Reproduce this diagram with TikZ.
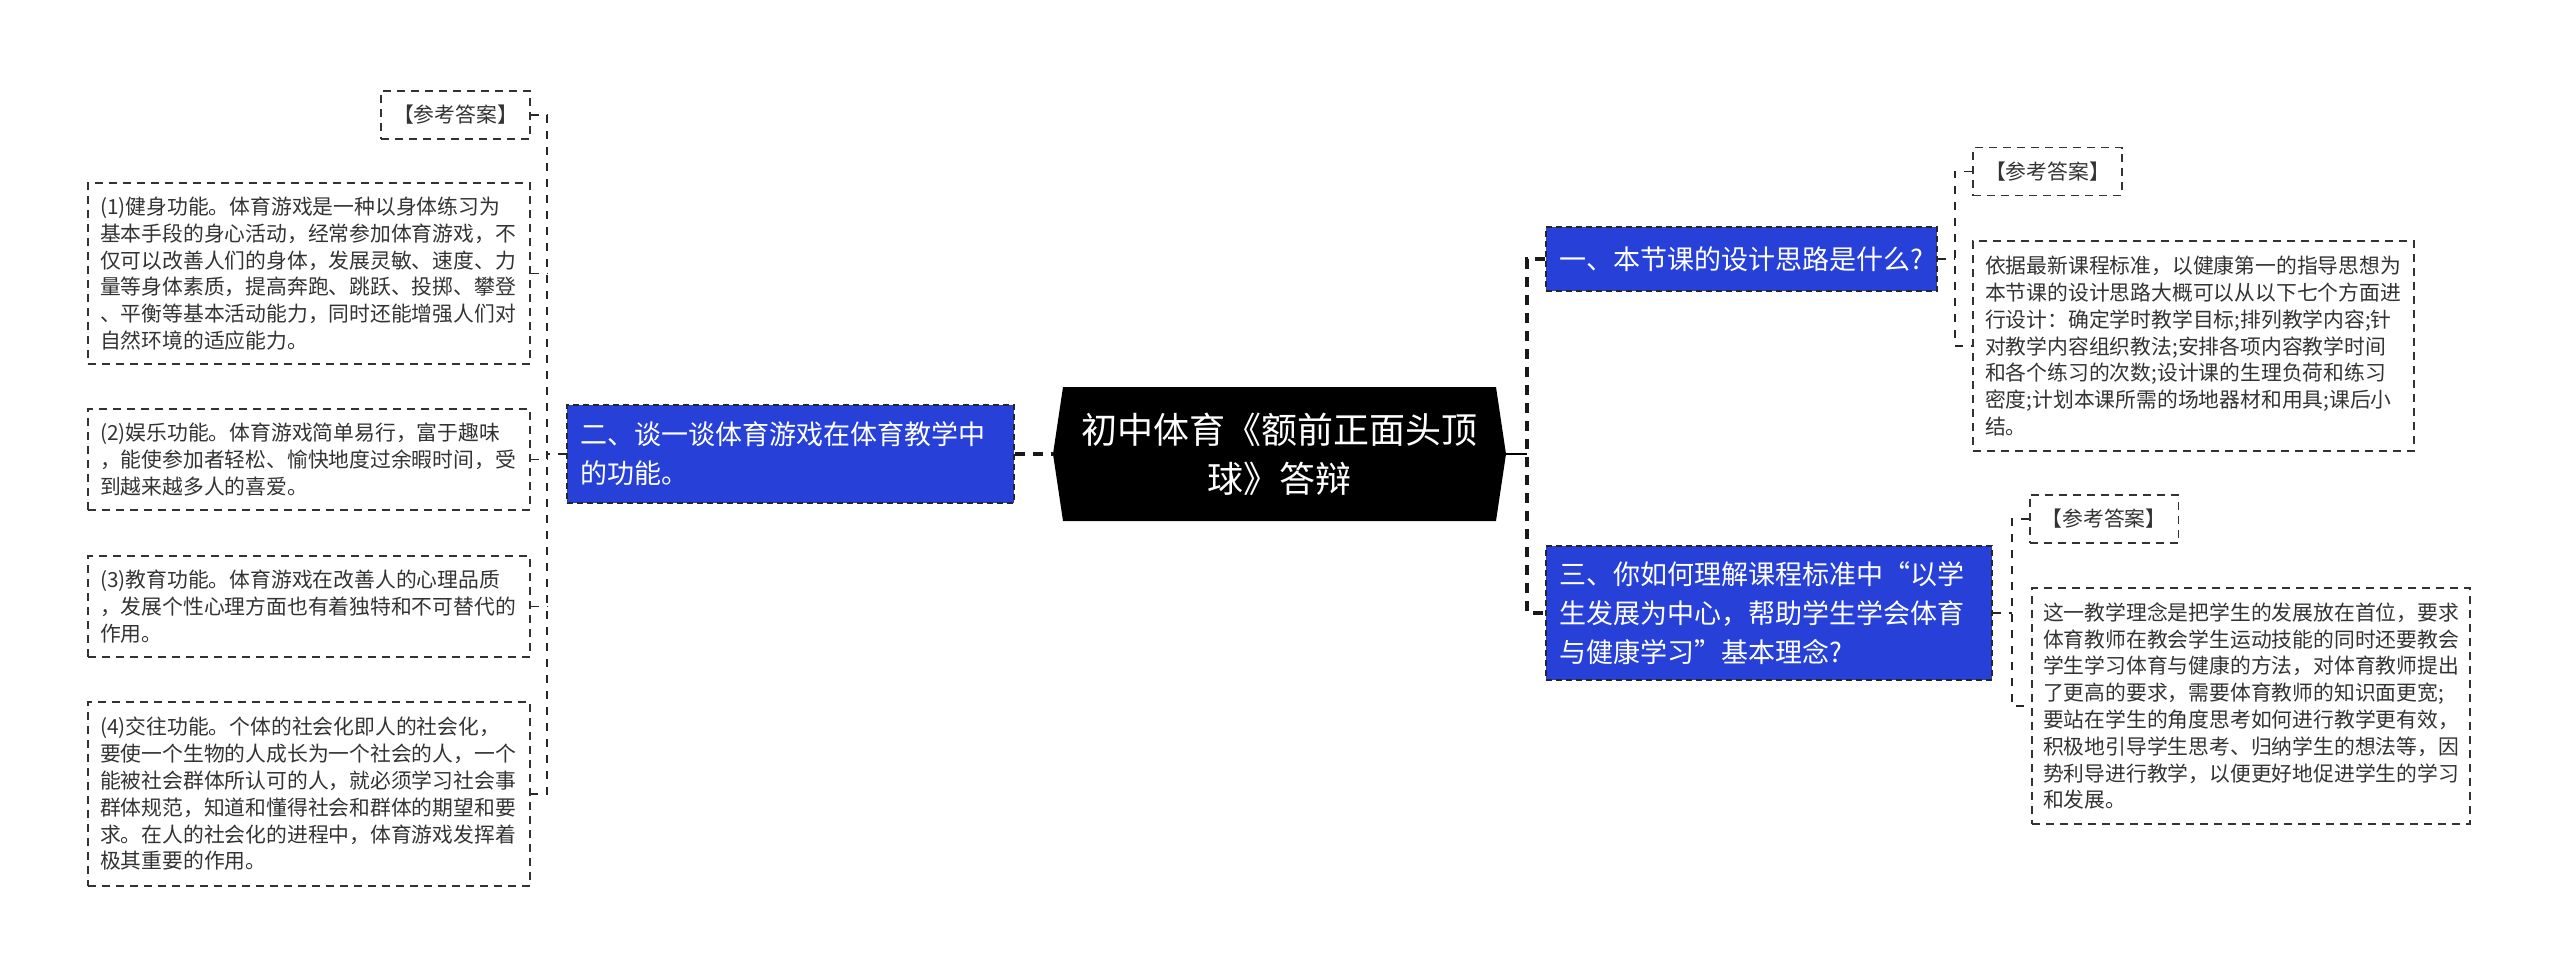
\documentclass[tikz,border=0pt]{standalone}
\usepackage{fontspec}
\setmainfont{Noto Sans CJK SC}
\usetikzlibrary{shapes.symbols}
\definecolor{topicblue}{RGB}{38,64,216}
\definecolor{leafgray}{RGB}{51,51,51}

\begin{document}
\begin{tikzpicture}[x=0.5pt,y=-0.5pt,
  root/.style={signal, signal to=west and east, signal pointer angle=163, fill=black, text=white,
    minimum width=226.5pt, minimum height=67pt, align=center, font=\fontsize{18pt}{24.5pt}\selectfont},
  topic/.style={draw=black!85, line width=0.8pt, dash pattern=on 3pt off 2pt, fill=topicblue, text=white,
    align=left, inner xsep=6.5pt, font=\fontsize{13.5pt}{19.5pt}\selectfont},
  leaf/.style={draw=leafgray, line width=0.9pt, dash pattern=on 4pt off 3pt, text=leafgray,
    align=left, inner xsep=6pt, font=\fontsize{10.4pt}{13.4pt}\selectfont},
  answer/.style={leaf, minimum width=74pt, minimum height=24pt},
  trunk/.style={line width=2pt, dash pattern=on 5pt off 4pt, draw=black!90},
  twig/.style={line width=0.9pt, dash pattern=on 4pt off 4pt, draw=black!85}]
\useasboundingbox (0,0) rectangle (2560,975);

\node[root] (root) at (1279.5,454) {初中体育《额前正面头顶\\球》答辩};

% left branch
\node[topic, text width=210.5pt, minimum height=49pt] (b2) at (790.5,454) {二、谈一谈体育游戏在体育教学中\\的功能。};
\node[answer] (a2) at (455.5,115) {【参考答案】};
\node[leaf, text width=209pt, minimum height=90.5pt] (f1) at (309,273.5) {(1)健身功能。体育游戏是一种以身体练习为\\基本手段的身心活动，经常参加体育游戏，不\\仅可以改善人们的身体，发展灵敏、速度、力\\量等身体素质，提高奔跑、跳跃、投掷、攀登\\、平衡等基本活动能力，同时还能增强人们对\\自然环境的适应能力。};
\node[leaf, text width=209pt, minimum height=50.5pt] (f2) at (309,459.5) {(2)娱乐功能。体育游戏简单易行，富于趣味\\，能使参加者轻松、愉快地度过余暇时间，受\\到越来越多人的喜爱。};
\node[leaf, text width=209pt, minimum height=50.5pt] (f3) at (309,606.5) {(3)教育功能。体育游戏在改善人的心理品质\\，发展个性心理方面也有着独特和不可替代的\\作用。};
\node[leaf, text width=209pt, minimum height=92pt] (f4) at (309,794) {(4)交往功能。个体的社会化即人的社会化，\\要使一个生物的人成长为一个社会的人，一个\\能被社会群体所认可的人，就必须学习社会事\\群体规范，知道和懂得社会和群体的期望和要\\求。在人的社会化的进程中，体育游戏发挥着\\极其重要的作用。};

% right branches
\node[topic, text width=182.5pt, minimum height=32pt] (b1) at (1741.5,259) {一、本节课的设计思路是什么?};
\node[topic, text width=210pt, minimum height=67pt] (b3) at (1769,613) {三、你如何理解课程标准中“以学\\生发展为中心，帮助学生学会体育\\与健康学习”基本理念?};
\node[answer] (a1) at (2047.5,171.5) {【参考答案】};
\node[leaf, text width=208.5pt, minimum height=105pt] (t1) at (2193.5,346) {依据最新课程标准，以健康第一的指导思想为\\本节课的设计思路大概可以从以下七个方面进\\行设计：确定学时教学目标;排列教学内容;针\\对教学内容组织教法;安排各项内容教学时间\\和各个练习的次数;设计课的生理负荷和练习\\密度;计划本课所需的场地器材和用具;课后小\\结。};
\node[answer] (a3) at (2104,519) {【参考答案】};
\node[leaf, text width=208pt, inner xsep=5.5pt, minimum height=118pt] (t3) at (2251,706) {这一教学理念是把学生的发展放在首位，要求\\体育教师在教会学生运动技能的同时还要教会\\学生学习体育与健康的方法，对体育教师提出\\了更高的要求，需要体育教师的知识面更宽;\\要站在学生的角度思考如何进行教学更有效，\\积极地引导学生思考、归纳学生的想法等，因\\势利导进行教学，以便更好地促进学生的学习\\和发展。};

\coordinate (jl) at (547,454);
\coordinate (jr) at (1527,454);
\coordinate (j1) at (1955,259);
\coordinate (j3) at (2012,613);

% connectors
\draw[line width=1.2pt, black] (root.east) -- (jr);
\draw[trunk] (b1.west) -| (jr) |- (b3.west);
\draw[trunk] (b2.east) -- (root.west);
\draw[twig] (b2.west) -- (jl);
\draw[twig] (a2.east) -| (jl) |- (f4.east);
\foreach \n in {f1,f2,f3}
  \draw[twig] (\n.east) -- (\n.east -| jl);
\draw[twig] (b1.east) -- (j1);
\draw[twig] (a1.west) -| (j1) |- (t1.west);
\draw[twig] (b3.east) -- (j3);
\draw[twig] (a3.west) -| (j3) |- (t3.west);
\end{tikzpicture}
\end{document}
